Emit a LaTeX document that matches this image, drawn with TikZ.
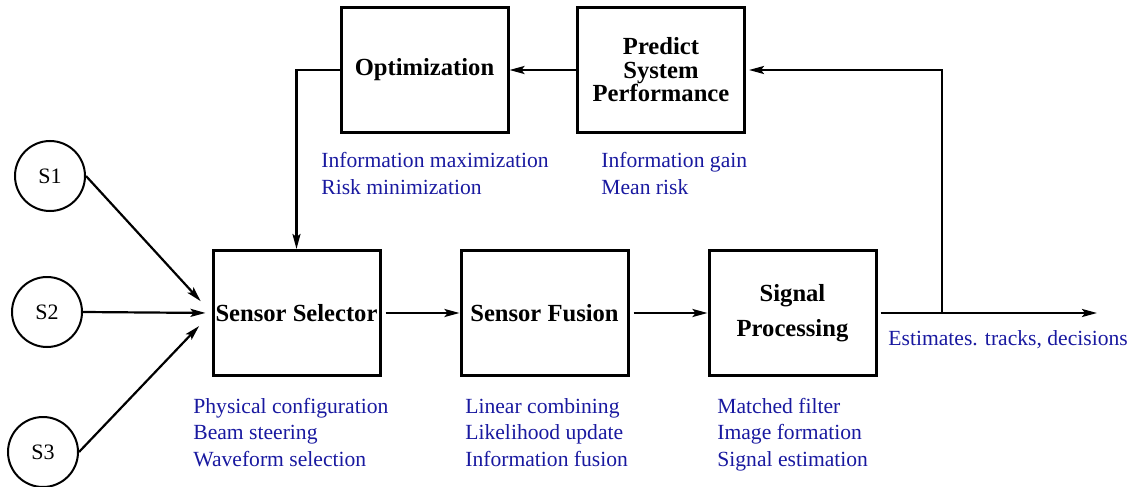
\documentclass[tikz,border=0pt]{standalone}
\usepackage{fontspec}
\setmainfont{Liberation Serif}
\usetikzlibrary{arrows.meta}
\definecolor{notecol}{RGB}{25,25,160}
\tikzset{
  block/.style={draw,line width=1.5pt,minimum width=83.5pt,minimum height=62.5pt,
    inner sep=0pt,align=center,font=\fontsize{12.3}{11.75}\selectfont\bfseries},
  sensor/.style={draw,circle,line width=1pt,minimum size=35pt,inner sep=0pt,
    font=\fontsize{11}{13}\selectfont},
  note/.style={anchor=base west,align=left,inner sep=0pt,text=notecol,
    font=\fontsize{10.8}{13.25}\selectfont},
  arr/.style={line width=1.1pt,-{Stealth[length=7.5pt,width=4pt,inset=1.5pt]}},
}
\begin{document}
\begin{tikzpicture}[x=0.5pt,y=-0.5pt]
        % fix the canvas
        \useasboundingbox (0,0) rectangle (1132,487);

        % draw blocks
        \node[block] (sel) at (296.5,313) {Sensor Selector};
        \node[block] (fus) at (544.5,313) {Sensor Fusion};
        \node[block] (sig) at (792.5,313) {Signal\\[5.75pt]Processing};
        \node[block] (opt) at (424.5,70) {Optimization};
        \node[block] (pred) at (661,70) {Predict\\System\\Performance};

        % draw sensors
        \foreach \n/\x/\y in {1/50/176,2/47/312,3/43/452}
          \node[sensor] (s\n) at (\x,\y) {S\n};

        % draw sensor links
        \foreach \n/\s in {1/8pt,2/3pt,3/9pt}
          \draw[arr,shorten >=\s] (s\n.east) -- (sel.west);

        % draw main chain
        \coordinate (tap) at (942,313);
        \coordinate (out) at (1097,313);
        \draw[arr,shorten <=2pt] (sel) -- (fus);
        \draw[arr,shorten <=2pt] (fus) -- (sig);
        \draw[arr,shorten <=1.5pt] (sig) -- (out);

        % draw feedback loop
        \draw[arr,shorten >=1.5pt] (tap) |- (pred);
        \draw[arr] (pred) -- (opt);
        \draw[arr] (opt) -| (sel);

        % draw notes (placed at the baseline of the last line)
        \node[note] (optnote) at (321,194) {Information maximization\\Risk minimization};
        \node[note] (prednote) at (601,194) {Information gain\\Mean risk};
        \node[note] (selnote) at (193,466) {Physical configuration\\Beam steering\\Waveform selection};
        \node[note] (fusnote) at (465,466) {Linear combining\\Likelihood update\\Information fusion};
        \node[note] (signote) at (717,466) {Matched filter\\Image formation\\Signal estimation};
        \node[note] (outnote) at (888,345) {Estimates. tracks, decisions};
\end{tikzpicture}
\end{document}
